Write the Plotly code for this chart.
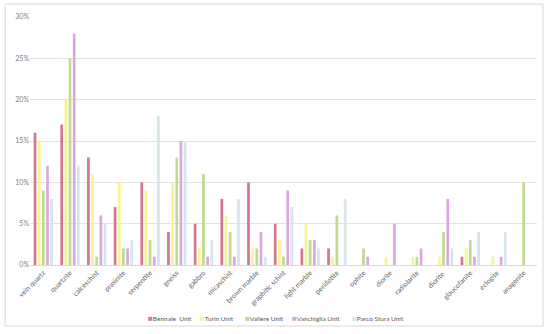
import plotly.graph_objects as go

categories = ["vein quartz", "quartzite", "calceschist", "prasinite", "serpentite", "gneiss",
              "gabbro", "micaschist", "brown marble", "graphitic schist", "light marble",
              "peridotite", "ophite", "diorite", "radiolarite", "diorite ", "glaucofanite",
              "eclogite", "anagenite"]

bennale = [16, 17, 13, 7, 10, 4, 5, 8, 10, 5, 2, 2, 0, 0, 0, 0, 1, 0, 0]
turin = [15, 20, 11, 10, 9, 10, 2, 6, 2, 3, 5, 1, 0, 1, 1, 1, 2, 1, 0]
vallere = [9, 25, 1, 2, 3, 13, 11, 4, 2, 1, 3, 6, 2, 0, 1, 4, 3, 0, 10]
vanchiglia = [12, 28, 6, 2, 1, 15, 1, 1, 4, 9, 3, 0, 1, 5, 2, 8, 1, 1, 0]
parco_stura = [8, 12, 5, 3, 18, 15, 3, 8, 1, 7, 2, 8, 0, 0, 0, 2, 4, 4, 0]

series_names = ["Bennale  Unit", "Turin Unit", "Vallere Unit", "Vanchiglia Unit", "Parco Stura Unit"]
series_values = [bennale, turin, vallere, vanchiglia, parco_stura]
series_colors = ["#D6758E", "#F9F48E", "#BFDB8E", "#DDA6E0", "#D5E5EC"]

fig = go.Figure()
for name, vals, col in zip(series_names, series_values, series_colors):
    fig.add_trace(go.Bar(x=categories, y=[v / 100 for v in vals], name=name,
                         marker=dict(color=col, line=dict(width=0)), showlegend=False))

# compact legend, Excel style
legend_x = [0.229, 0.331, 0.420, 0.513, 0.631]
annotations = []
for name, col, lx in zip(series_names, series_colors, legend_x):
    annotations.append(dict(
        xref="paper", yref="paper", x=lx, y=-0.215, xanchor="left", yanchor="middle",
        text=f"<span style='color:{col};font-size:8px'>■</span>{name}", showarrow=False,
        font=dict(size=6.5, color="#595959")))

fig.update_layout(
    width=550, height=334,
    margin=dict(l=30, r=13, t=17, b=69),
    paper_bgcolor="white", plot_bgcolor="white",
    barmode="group", bargap=0.22, bargroupgap=0.35,
    font=dict(family="Lato, Open Sans, sans-serif", size=7, color="#595959"),
    showlegend=False,
    xaxis=dict(tickangle=-45, showgrid=False, showline=True, linecolor="#D9D9D9",
               linewidth=1, ticks="", tickfont=dict(size=7, color="#666666"), automargin=False),
    yaxis=dict(range=[0, 0.30], dtick=0.05, tickformat=".0%", showgrid=True,
               gridcolor="#E3E3E3", gridwidth=1, zeroline=False, showline=False,
               tickfont=dict(size=7, color="#7F7F7F"), ticks="", automargin=False),
    annotations=annotations,
    shapes=[dict(type="rect", xref="paper", yref="paper",
                 x0=-0.049, x1=1.012, y0=-0.246, y1=1.052,
                 line=dict(color="#D9D9D9", width=1), fillcolor="rgba(0,0,0,0)")],
)

fig.write_html("out.html", config={"displayModeBar": False},
               post_script="document.body.style.margin='0';document.body.style.overflow='hidden';")
